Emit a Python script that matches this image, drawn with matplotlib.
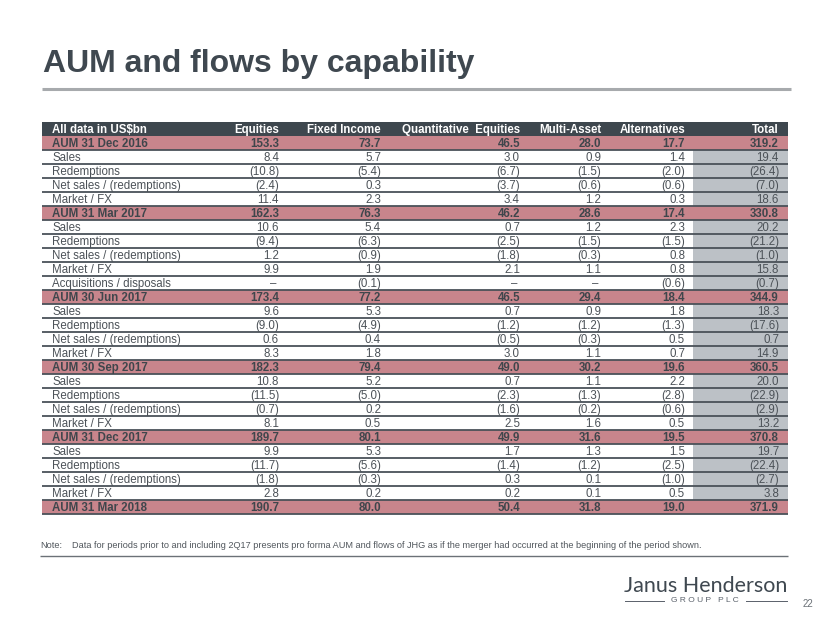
"""
AUM and flows by capability - table slide
"""
import matplotlib
matplotlib.use("Agg")
import matplotlib.pyplot as plt
from matplotlib.patches import Rectangle

plt.rcParams["font.family"] = ["Liberation Sans", "DejaVu Sans"]

# Table data (US$bn), None = no value
row_labels = [
    "AUM 31 Dec 2016", "Sales", "Redemptions", "Net sales / (redemptions)", "Market / FX",
    "AUM 31 Mar 2017", "Sales", "Redemptions", "Net sales / (redemptions)", "Market / FX",
    "Acquisitions / disposals",
    "AUM 30 Jun 2017", "Sales", "Redemptions", "Net sales / (redemptions)", "Market / FX",
    "AUM 30 Sep 2017", "Sales", "Redemptions", "Net sales / (redemptions)", "Market / FX",
    "AUM 31 Dec 2017", "Sales", "Redemptions", "Net sales / (redemptions)", "Market / FX",
    "AUM 31 Mar 2018",
]
equities = [153.3, 8.4, -10.8, -2.4, 11.4,
            162.3, 10.6, -9.4, 1.2, 9.9, None,
            173.4, 9.6, -9.0, 0.6, 8.3,
            182.3, 10.8, -11.5, -0.7, 8.1,
            189.7, 9.9, -11.7, -1.8, 2.8,
            190.7]
fixed_income = [73.7, 5.7, -5.4, 0.3, 2.3,
                76.3, 5.4, -6.3, -0.9, 1.9, -0.1,
                77.2, 5.3, -4.9, 0.4, 1.8,
                79.4, 5.2, -5.0, 0.2, 0.5,
                80.1, 5.3, -5.6, -0.3, 0.2,
                80.0]
quant_equities = [46.5, 3.0, -6.7, -3.7, 3.4,
                  46.2, 0.7, -2.5, -1.8, 2.1, None,
                  46.5, 0.7, -1.2, -0.5, 3.0,
                  49.0, 0.7, -2.3, -1.6, 2.5,
                  49.9, 1.7, -1.4, 0.3, 0.2,
                  50.4]
multi_asset = [28.0, 0.9, -1.5, -0.6, 1.2,
               28.6, 1.2, -1.5, -0.3, 1.1, None,
               29.4, 0.9, -1.2, -0.3, 1.1,
               30.2, 1.1, -1.3, -0.2, 1.6,
               31.6, 1.3, -1.2, 0.1, 0.1,
               31.8]
alternatives = [17.7, 1.4, -2.0, -0.6, 0.3,
                17.4, 2.3, -1.5, 0.8, 0.8, -0.6,
                18.4, 1.8, -1.3, 0.5, 0.7,
                19.6, 2.2, -2.8, -0.6, 0.5,
                19.5, 1.5, -2.5, -1.0, 0.5,
                19.0]
total = [319.2, 19.4, -26.4, -7.0, 18.6,
         330.8, 20.2, -21.2, -1.0, 15.8, -0.7,
         344.9, 18.3, -17.6, 0.7, 14.9,
         360.5, 20.0, -22.9, -2.9, 13.2,
         370.8, 19.7, -22.4, -2.7, 3.8,
         371.9]
header = ["All data in US$bn", "Equities", "Fixed Income", "Quantitative  Equities",
          "Multi-Asset", "Alternatives", "Total"]
columns = [equities, fixed_income, quant_equities, multi_asset, alternatives, total]

note = ("Data for periods prior to and including 2Q17 presents pro forma AUM and flows "
        "of JHG as if the merger had occurred at the beginning of the period shown.")

# Colours
dark = "#3e474e"
pink = "#c8858c"
shade = "#bcc1c6"
text_grey = "#4c5258"
line_col = "#4a5259"


def fmt(v):
    if v is None:
        return "\u2013"
    if v < 0:
        return f"({abs(v):.1f})"
    return f"{v:.1f}"


W, H = 830, 623
fig = plt.figure(figsize=(W / 100, H / 100), dpi=100)
ax = fig.add_axes([0, 0, 1, 1])
ax.set_xlim(0, W)
ax.set_ylim(H, 0)
ax.axis("off")

# Title
ax.text(43, 72, "AUM and flows by capability", fontsize=23, fontweight="bold",
        color="#3f4850", va="baseline", ha="left")
ax.plot([42, 791], [89, 89], color="#a7aaad", lw=2.2, solid_capstyle="butt")

# Table geometry
left, right = 42, 788
head_top, head_h = 122, 14
row_h = 14.0
col_right = [279, 381, 520, 601, 685, 779]
label_x = 52
fs = 8.3
base_off = 11.0  # baseline offset from row top

# Header
ax.add_patch(Rectangle((left, head_top), right - left, head_h, color=dark, lw=0))
ax.text(label_x, head_top + base_off, header[0], fontsize=fs, fontweight="bold",
        color="white", va="baseline", ha="left")
for x, h in zip(col_right, header[1:]):
    ax.text(x, head_top + base_off, h, fontsize=fs, fontweight="bold",
            color="white", va="baseline", ha="right")

# Body rows
y0 = head_top + head_h
for i, lab in enumerate(row_labels):
    top = y0 + i * row_h
    is_aum = lab.startswith("AUM")
    if is_aum:
        ax.add_patch(Rectangle((left, top), right - left, row_h, color=pink, lw=0))
    else:
        ax.add_patch(Rectangle((693, top), right - 693, row_h, color=shade, lw=0))
    ax.plot([left, right], [top + row_h, top + row_h], color=line_col, lw=1.3,
            solid_capstyle="butt")
    weight = "bold" if is_aum else "normal"
    tcol = "#3f464c" if is_aum else text_grey
    yb = top + base_off
    ax.text(label_x, yb, lab, fontsize=fs, fontweight=weight, color=tcol,
            va="baseline", ha="left")
    for x, col in zip(col_right, columns):
        v = col[i]
        ax.text(x - (3 if v is None else 0), yb, fmt(v), fontsize=fs,
                fontweight=weight, color=tcol, va="baseline", ha="right")

# Note
ax.text(40, 547.5, "Note:", fontsize=6.6, color="#50565c", va="baseline", ha="left")
ax.text(72, 547.5, note, fontsize=6.6, color="#50565c", va="baseline", ha="left")
ax.plot([40, 788], [556, 556], color="#6b7177", lw=1.0, solid_capstyle="butt")

# Logo
ax.text(706, 592, "Janus Henderson", fontsize=15.5, color="#3f4850", va="baseline",
        ha="center", family=["Lato", "Liberation Sans", "DejaVu Sans"])
ax.text(705, 601, "G R O U P   P L C", fontsize=6, color="#59606a", va="center",
        ha="center")
ax.plot([625, 664], [601, 601], color="#59606a", lw=0.7)
ax.plot([746, 787], [601, 601], color="#59606a", lw=0.7)
ax.text(808, 604, "22", fontsize=7, color="#6b7177", va="center", ha="center")

fig.savefig("out.png", dpi=100)
